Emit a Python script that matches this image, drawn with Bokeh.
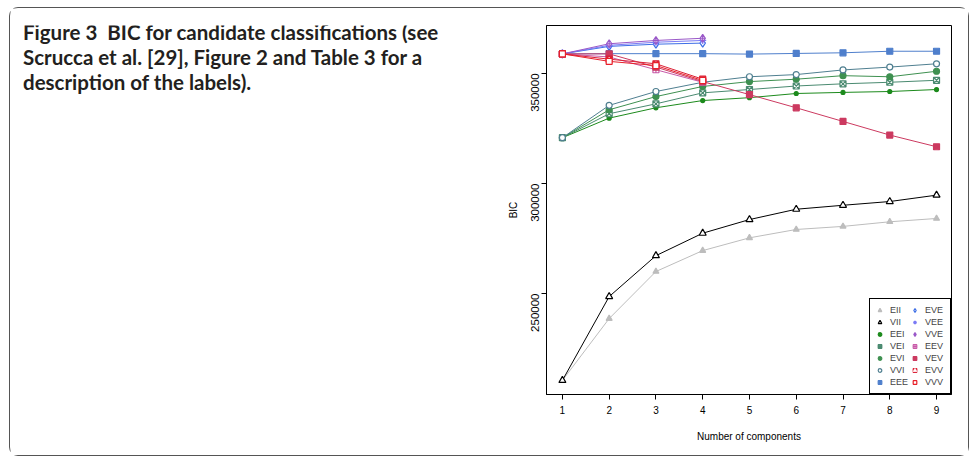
import math
from bokeh.plotting import figure
from bokeh.layouts import row, column
from bokeh.models import (Range1d, FixedTicker, Legend, LegendItem,
                          BasicTickFormatter, Spacer)
from bokeh.core.properties import value
from bokeh.embed import file_html
from bokeh.resources import INLINE

# ---- data ----
components = [1, 2, 3, 4, 5, 6, 7, 8, 9]
comp4 = [1, 2, 3, 4]
EII = [210500, 238600, 260000, 269500, 275300, 279100, 280500, 282600, 284100]
VII = [210500, 248600, 267200, 277400, 283600, 288300, 290100, 291800, 294700]
EEI = [320800, 329700, 334400, 337700, 339000, 340900, 341400, 341800, 342700]
VEI = [320800, 331700, 336200, 341200, 342700, 344300, 345300, 346000, 346900]
EVI = [320800, 333500, 339500, 344100, 346300, 347400, 349000, 348500, 351000]
VVI = [320800, 335500, 341800, 346000, 348500, 349500, 351600, 352900, 354400]
EEE = [358900, 359000, 359000, 359000, 358800, 359100, 359400, 360100, 360100]
EVE = [358900, 362300, 363300, 363800]
VEE = [358900, 362800, 364200, 365000]
VVE = [358900, 363500, 365000, 366000]
EEV = [358900, 357500, 351700, 346000]
VEV = [358900, 358900, 352900, 346300, 340400, 334400, 328200, 322000, 316700]
EVV = [358900, 356500, 354400, 347400]
VVV = [358900, 355500, 353600, 346800]
y_ticks = [250000, 300000, 350000]

title_lines = ["Figure 3\u00a0\u00a0BIC for candidate classifications (see",
               "Scrucca et al. [29], Figure 2 and Table 3 for a",
               "description of the labels)."]
title_x = [23, 23, 23]
title_baseline = [32, 57, 82]

# ---- layout geometry (pixels) ----
IN_W, IN_H = 958, 447        # inside the rounded border
OX, OY = 10.5, 8.5           # page offset of the inner area
TW = 480                     # title panel width
CW = IN_W - TW               # chart panel width
BT, BB = 17, 61              # top / bottom borders of both panels

# ---- title panel: its data units are page pixels ----
t = figure(width=TW, height=IN_H, output_backend="svg", toolbar_location=None,
           x_range=Range1d(OX, OX + TW),
           y_range=Range1d(OY + IN_H - BB, OY + BT),
           x_axis_location=None, y_axis_location=None,
           min_border_left=0, min_border_right=0,
           min_border_top=BT, min_border_bottom=BB, outline_line_color=None)
t.xgrid.visible = False
t.ygrid.visible = False
t.text(x=title_x, y=title_baseline, text=title_lines,
       text_font=value("Lato"), text_font_style="bold", text_font_size="20.5px",
       text_color="#231f20", text_baseline="alphabetic", text_align="left")

# ---- chart panel ----
p = figure(width=CW, height=IN_H, output_backend="svg", toolbar_location=None,
           x_range=Range1d(0.66, 9.32), y_range=Range1d(204100, 371800),
           min_border_left=56, min_border_right=17,
           min_border_top=BT, min_border_bottom=BB)
p.xgrid.visible = False
p.ygrid.visible = False
p.outline_line_color = "black"
p.outline_line_width = 1
p.outline_line_alpha = 1

for ax in (p.xaxis[0], p.yaxis[0]):
    ax.axis_line_color = "black"
    ax.major_tick_line_color = "black"
    ax.major_tick_in = 0
    ax.major_tick_out = 5
    ax.minor_tick_line_color = None
    ax.major_label_text_font = "Liberation Sans"
    ax.axis_label_text_font = "Liberation Sans"
    ax.axis_label_text_font_style = "normal"
    ax.major_label_text_color = "black"
    ax.axis_label_text_color = "black"

p.xaxis.ticker = FixedTicker(ticks=components)
p.xaxis.major_label_text_font_size = "10px"
p.xaxis.major_label_standoff = 6
p.xaxis.axis_label = "Number of components"
p.xaxis.axis_label_text_font_size = "10px"
p.xaxis.axis_label_standoff = 14

p.yaxis.ticker = FixedTicker(ticks=y_ticks)
p.yaxis.formatter = BasicTickFormatter(use_scientific=False)
p.yaxis.major_label_orientation = math.pi / 2
p.yaxis.major_label_text_font_size = "11.5px"
p.yaxis.major_label_standoff = 6
p.yaxis.axis_label = "BIC"
p.yaxis.axis_label_text_font_size = "10px"
p.yaxis.axis_label_standoff = 6

series = [
    ("EII", components, EII, "#bdbdbd", "triangle", True, 6),
    ("VII", components, VII, "#000000", "triangle", False, 7),
    ("EEI", components, EEI, "#1c8a1c", "circle", True, 4),
    ("VEI", components, VEI, "#4a8a70", "square_x", False, 6),
    ("EVI", components, EVI, "#3e9050", "circle", True, 6),
    ("VVI", components, VVI, "#4f7f90", "circle", False, 6),
    ("EEE", components, EEE, "#4f7fcc", "square", True, 6),
    ("EVE", comp4, EVE, "#3d6ee6", "diamond", False, 8),
    ("VEE", comp4, VEE, "#7b7bf5", "asterisk", False, 7),
    ("VVE", comp4, VVE, "#9a58c8", "diamond_cross", False, 8),
    ("EEV", comp4, EEV, "#c85aa8", "square_cross", False, 6),
    ("VEV", components, VEV, "#cc3a60", "square_x", True, 6),
    ("EVV", comp4, EVV, "#dc2035", "square", True, 6),
    ("VVV", comp4, VVV, "#e8202a", "square", False, 6),
]

items = []
for name, xs, ys, col, marker, filled, size in series:
    p.line(xs, ys, line_color=col, line_width=1.0)
    r = p.scatter(xs, ys, marker=marker, size=size, line_color=col, line_width=1.2,
                  fill_color=col if filled else "white")
    rs = [r]
    if name == "EVV":
        r2 = p.scatter(xs, ys, marker="triangle", size=3.5, line_color="white",
                       fill_color="white", line_width=0.8)
        rs.append(r2)
    items.append(LegendItem(label=name, renderers=rs))

legend = Legend(items=items, location="bottom_right", nrows=7, orientation="vertical",
                border_line_color="black", border_line_width=1.5, border_line_alpha=1,
                background_fill_color="white", background_fill_alpha=1,
                label_text_font="Liberation Sans", label_text_font_size="9px",
                label_height=12, glyph_height=12, glyph_width=9, label_standoff=6,
                spacing=0, padding=5, margin=0)
p.add_layout(legend)

inner = row(t, p, spacing=0,
            styles={"border": "1.5px solid #555555", "border-radius": "9px",
                    "background-color": "white"})
page = column(Spacer(width=960, height=7),
              row(Spacer(width=9, height=IN_H), inner, spacing=0),
              spacing=0)

open("out.html", "w").write(file_html(page, INLINE))
